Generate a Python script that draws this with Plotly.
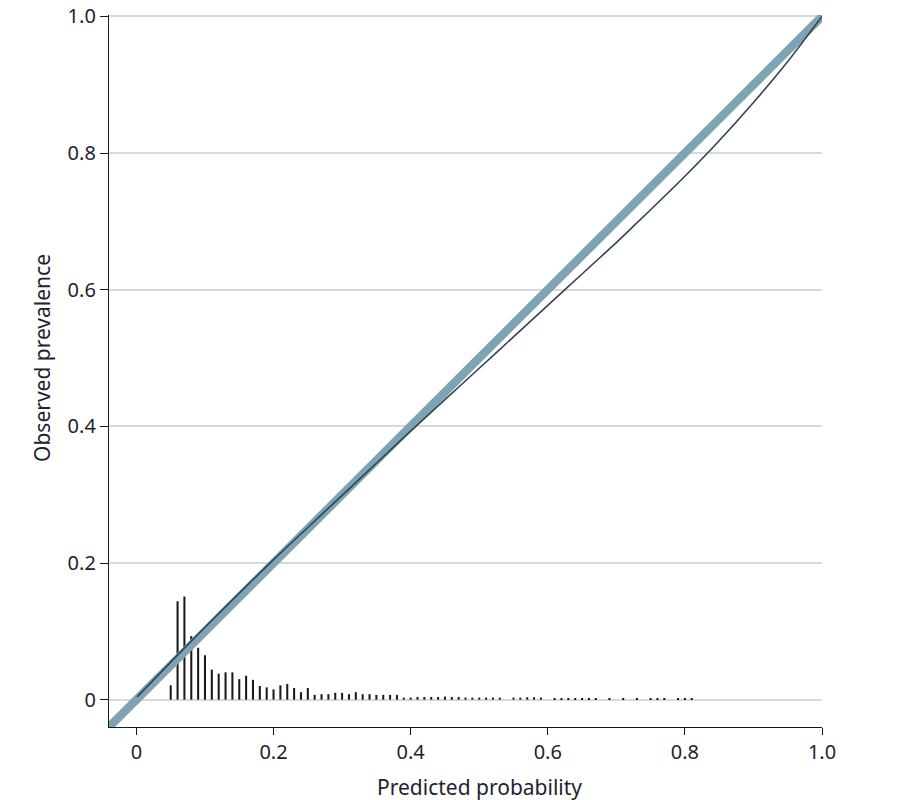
import plotly.graph_objects as go

# Histogram of predicted probabilities (bin centre, relative height)
hist_x = [0.05, 0.06, 0.07, 0.08, 0.09, 0.10, 0.11, 0.12, 0.13, 0.14,
          0.15, 0.16, 0.17, 0.18, 0.19, 0.20, 0.21, 0.22, 0.23, 0.24,
          0.25, 0.26, 0.27, 0.28, 0.29, 0.30, 0.31, 0.32, 0.33, 0.34,
          0.35, 0.36, 0.37, 0.38, 0.39, 0.40, 0.41, 0.42, 0.43, 0.44,
          0.45, 0.46, 0.47, 0.48, 0.49, 0.50, 0.51, 0.52, 0.53, 0.55,
          0.56, 0.57, 0.58, 0.59, 0.61, 0.62, 0.63, 0.64, 0.65, 0.66,
          0.67, 0.69, 0.71, 0.73, 0.75, 0.76, 0.77, 0.79, 0.80, 0.81]
hist_y = [0.021, 0.144, 0.151, 0.093, 0.076, 0.065, 0.044, 0.038, 0.040, 0.040,
          0.030, 0.035, 0.029, 0.020, 0.018, 0.015, 0.021, 0.023, 0.017, 0.011,
          0.017, 0.007, 0.008, 0.008, 0.010, 0.010, 0.008, 0.011, 0.008, 0.008,
          0.007, 0.007, 0.007, 0.007, 0.003, 0.003, 0.004, 0.004, 0.004, 0.004,
          0.0045, 0.004, 0.004, 0.003, 0.003, 0.003, 0.003, 0.003, 0.003, 0.003,
          0.003, 0.0035, 0.0035, 0.003, 0.002, 0.002, 0.002, 0.002, 0.002, 0.0025,
          0.002, 0.002, 0.002, 0.002, 0.002, 0.002, 0.0015, 0.0015, 0.0015, 0.0015]

# Calibration curve
cal_x = [0.001, 0.05, 0.10, 0.15, 0.20, 0.25, 0.30, 0.35, 0.40, 0.45,
         0.50, 0.55, 0.60, 0.65, 0.70, 0.75, 0.80, 0.85, 0.90, 0.95, 1.00]
cal_y = [0.004, 0.055, 0.106, 0.156, 0.205, 0.252, 0.299, 0.346, 0.393, 0.439,
         0.485, 0.531, 0.577, 0.623, 0.669, 0.717, 0.766, 0.818, 0.874, 0.934, 1.000]

# Ideal (diagonal) reference line
diag_x = [-0.04, 1.003]
diag_y = [-0.04, 1.003]

tick_vals = [0, 0.2, 0.4, 0.6, 0.8, 1.0]
tick_text = ['0', '0.2', '0.4', '0.6', '0.8', '1.0']

TEXT = '#1f2230'
FONT = 'Noto Sans'

fig = go.Figure()
fig.add_trace(go.Bar(x=hist_x, y=hist_y, width=0.003,
                     marker=dict(color='#1a1a1a', line=dict(width=0)),
                     showlegend=False, hoverinfo='skip'))
fig.add_trace(go.Scatter(x=diag_x, y=diag_y, mode='lines',
                         line=dict(color='#80a3b3', width=8.5),
                         cliponaxis=False, showlegend=False))
fig.add_trace(go.Scatter(x=cal_x, y=cal_y, mode='lines',
                         line=dict(color='#2c4753', width=1.6, shape='spline',
                                   smoothing=0.6),
                         showlegend=False))

fig.update_layout(
    width=894, height=792,
    margin=dict(l=101, r=80, t=7, b=73),
    paper_bgcolor='white', plot_bgcolor='white',
    font=dict(family=FONT, size=20, color=TEXT),
    xaxis=dict(range=[-0.04, 1.0], tickvals=tick_vals, ticktext=tick_text,
               showgrid=False, zeroline=False, showline=True, automargin=False,
               ticklabeloverflow='allow',
               linecolor='#1a1a1a', linewidth=1.3, ticks='outside',
               ticklen=7, tickwidth=1.3, tickcolor='#1a1a1a',
               tickfont=dict(size=20, color=TEXT)),
    yaxis=dict(range=[-0.04, 1.002], tickvals=tick_vals, ticktext=tick_text,
               showgrid=True, gridcolor='#d9d9d9', gridwidth=1.5,
               zeroline=False, showline=True, automargin=False,
               ticklabeloverflow='allow',
               linecolor='#1a1a1a', linewidth=1.3, ticks='outside',
               ticklen=8, tickwidth=1.3, tickcolor='#1a1a1a',
               tickfont=dict(size=20, color=TEXT)),
    annotations=[
        dict(text='Predicted probability', xref='x', x=0.5, yref='paper',
             y=-0.084, xanchor='center', yanchor='middle', showarrow=False,
             font=dict(size=21, color=TEXT, family=FONT)),
        dict(text='Observed prevalence', xref='paper', x=-0.094, yref='y',
             y=0.5, xanchor='center', yanchor='middle', textangle=-90,
             showarrow=False, font=dict(size=21, color=TEXT, family=FONT)),
    ],
)

fig.write_html('out.html')
